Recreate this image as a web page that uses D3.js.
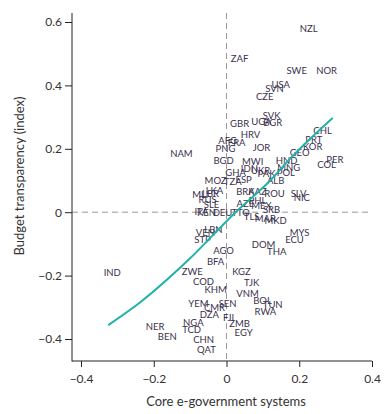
<!DOCTYPE html>
<html>
<head>
<meta charset="utf-8">
<script src="https://cdn.jsdelivr.net/npm/d3@7"></script>
<style>
  body { margin: 0; background: #fff; }
  text { font-family: Lato, "Open Sans", sans-serif; }
</style>
</head>
<body>
<script>
const width = 388;
const height = 414;

// country codes with core e-government (x) and budget transparency (y)
const codes = ["NZL","ZAF","SWE","NOR","USA","SVN","CZE","SVK","UGA","BGR","GBR","HRV","AFG","FRA","PNG","JOR",
  "NAM","BGD","MWI","HND","GEO","KOR","PRT","CHL","PER","COL","MNG","POL","GHA","IDN","UKR","PAK",
  "MOZ","TZA","ESP","ALB","LKA","MLI","LBR","RUS","SLE","BRA","KAZ","ROU","SLV","NIC","AZE","PHL",
  "MEX","ITA","KEN","DEU","TTO","SRB","TLS","MAR","MKD","LBN","VEN","STP","MYS","ECU","DOM","AGO",
  "THA","BFA","IND","ZWE","KGZ","COD","TJK","KHM","VNM","BOL","YEM","SEN","CMR","TUN","RWA","DZA",
  "FJI","NGA","ZMB","NER","TCD","EGY","BEN","CHN","QAT"];
const egov = [0.226,0.036,0.193,0.275,0.149,0.132,0.105,0.124,0.096,0.127,0.036,0.066,0.003,0.028,-0.003,0.096,
  -0.124,-0.008,0.072,0.165,0.201,0.237,0.240,0.264,0.298,0.275,0.171,0.163,0.025,0.063,0.094,0.110,
  -0.030,0.017,0.047,0.135,-0.033,-0.072,-0.044,-0.052,-0.041,0.052,0.085,0.132,0.198,0.207,0.052,0.085,
  0.096,-0.069,-0.055,-0.011,0.039,0.124,0.069,0.107,0.135,-0.036,-0.058,-0.066,0.201,0.187,0.102,-0.008,
  0.138,-0.030,-0.314,-0.094,0.041,-0.063,0.069,-0.030,0.058,0.099,-0.077,0.003,-0.033,0.127,0.107,-0.047,
  0.006,-0.091,0.036,-0.196,-0.096,0.047,-0.163,-0.063,-0.055];
const budget = [0.580,0.483,0.448,0.448,0.401,0.391,0.366,0.306,0.287,0.281,0.278,0.246,0.227,0.218,0.199,0.202,
  0.186,0.161,0.158,0.164,0.189,0.208,0.230,0.256,0.167,0.151,0.142,0.126,0.126,0.136,0.132,0.123,
  0.098,0.095,0.104,0.101,0.069,0.054,0.057,0.041,0.025,0.066,0.066,0.057,0.060,0.047,0.028,0.035,
  0.022,0.003,-0.003,0.000,0.000,0.009,-0.013,-0.022,-0.028,-0.054,-0.066,-0.088,-0.066,-0.088,-0.101,-0.120,
  -0.126,-0.155,-0.192,-0.189,-0.189,-0.218,-0.221,-0.243,-0.256,-0.278,-0.290,-0.290,-0.300,-0.293,-0.315,-0.322,
  -0.334,-0.347,-0.353,-0.360,-0.372,-0.379,-0.394,-0.401,-0.435];

// fitted curve
const fitX = [-0.325,-0.237,-0.105,0.025,0.121,0.176,0.292];
const fitY = [-0.356,-0.284,-0.151,0.0,0.101,0.170,0.297];

const xTicks = [-0.4,-0.2,0,0.2,0.4];
const yTicks = [-0.4,-0.2,0,0.2,0.4,0.6];

const svg = d3.select("body").append("svg")
  .attr("width", width)
  .attr("height", height);

const x = d3.scaleLinear().domain([-0.4, 0.4]).range([81, 372]);
const y = d3.scaleLinear().domain([-0.4, 0.6]).range([339, 22]);

const x0 = 72, y0 = 361, yTop = 13, xRight = 372;

const fmt = d => d === 0 ? "0" : d3.format(".1f")(d).replace("-", "\u2013");

// reference lines at zero
svg.append("line")
  .attr("x1", x(0)).attr("x2", x(0)).attr("y1", yTop).attr("y2", y0)
  .attr("stroke", "#999").attr("stroke-width", 1).attr("stroke-dasharray", "6,4");
svg.append("line")
  .attr("x1", x0).attr("x2", xRight).attr("y1", y(0)).attr("y2", y(0))
  .attr("stroke", "#999").attr("stroke-width", 1).attr("stroke-dasharray", "6,4");

// axes
const xAxis = svg.append("g")
  .attr("transform", "translate(0," + y0 + ")")
  .call(d3.axisBottom(x).tickValues(xTicks).tickFormat(fmt).tickSize(6).tickSizeOuter(0));
const yAxis = svg.append("g")
  .attr("transform", "translate(" + x0 + ",0)")
  .call(d3.axisLeft(y).tickValues(yTicks).tickFormat(fmt).tickSize(7).tickSizeOuter(0));

[xAxis, yAxis].forEach(a => {
  a.select(".domain").remove();
  a.selectAll("line").attr("stroke", "#222");
  a.selectAll("text").attr("fill", "#333").style("font-size", "12px")
    .style("font-family", "Lato, sans-serif");
});
xAxis.selectAll("text").attr("dy", "1.05em");
yAxis.selectAll("text").attr("x", -10);

svg.append("line").attr("x1", x0).attr("x2", x0).attr("y1", yTop).attr("y2", y0 + 0.5)
  .attr("stroke", "#222");
svg.append("line").attr("x1", x0).attr("x2", xRight).attr("y1", y0).attr("y2", y0)
  .attr("stroke", "#222");

// axis titles
svg.append("text")
  .attr("x", 226).attr("y", 406)
  .attr("text-anchor", "middle")
  .attr("fill", "#333")
  .style("font-size", "13px")
  .text("Core e-government systems");
svg.append("text")
  .attr("transform", "translate(24,176) rotate(-90)")
  .attr("text-anchor", "middle")
  .attr("fill", "#333")
  .style("font-size", "13px")
  .text("Budget transparency (index)");

// country labels
svg.append("g").selectAll("text")
  .data(codes)
  .enter().append("text")
  .attr("x", (d, i) => x(egov[i]))
  .attr("y", (d, i) => y(budget[i]))
  .attr("dy", "0.35em")
  .attr("text-anchor", "middle")
  .attr("fill", "#3a2f4c")
  .style("font-size", "9.5px")
  .text(d => d);

// fitted curve
const fit = fitX.map((v, i) => [v, fitY[i]]);
svg.append("path")
  .datum(fit)
  .attr("d", d3.line().x(d => x(d[0])).y(d => y(d[1])).curve(d3.curveMonotoneX))
  .attr("fill", "none")
  .attr("stroke", "#1fb2a6")
  .attr("stroke-width", 2);
</script>
</body>
</html>
